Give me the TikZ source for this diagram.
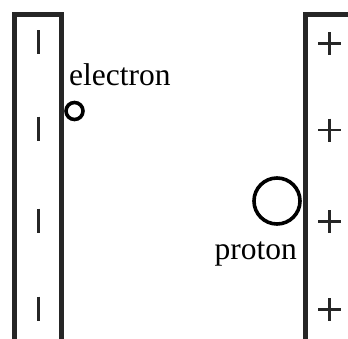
\documentclass[tikz,border=0pt]{standalone}
\usepackage{fontspec}
\setmainfont{Liberation Serif}
\usetikzlibrary{positioning}

\begin{document}
\begin{tikzpicture}[
        x=1pt, y=-1pt,
        plate/.style={draw=black!85, line width=5pt, line join=miter},
        sign/.style={draw=black!85, line width=2.8pt},
        particle/.style={draw, circle, inner sep=0pt},
        label_text/.style={font=\fontsize{31.5}{32}\selectfont, inner sep=0pt}
    ]

        \useasboundingbox (0,0) rectangle (348,338);
        \clip (0,0) rectangle (348,338);

        % plates
        \draw[plate] (14.5,345) -- (14.5,14.5) -- (61.5,14.5) -- (61.5,345);
        \draw[plate] (305.5,345) -- (305.5,14.5) -- (355,14.5);

        % charges
        \foreach \y in {42, 128.5, 220.5, 308.5} {
            \draw[sign] (38.5,\y-12) -- (38.5,\y+12);
        }
        \foreach \y in {43.5, 130, 221.5, 309.5} {
            \draw[sign] (318,\y) -- (341,\y);
            \draw[sign] (329.5,\y-11.5) -- (329.5,\y+11.5);
        }

        % particles
        \node[particle, line width=3.6pt, minimum size=17pt] (electron) at (74.5,111) {};
        \node[particle, line width=3.6pt, minimum size=46pt] (proton) at (277,201) {};

        \node[label_text, anchor=base west] (electronlabel) at (69,85) {electron};
        \node[label_text, anchor=base east] (protonlabel) at (297,259) {proton};

    \end{tikzpicture}
\end{document}
